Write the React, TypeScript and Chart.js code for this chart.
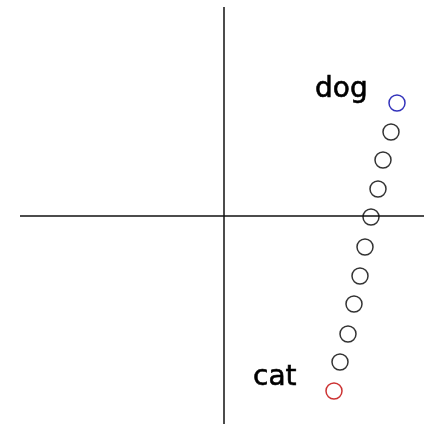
import React, { useEffect, useRef } from "react";
import { Chart, registerables } from "chart.js";

Chart.register(...registerables);

// Embedding coordinates of the words (first = "cat", last = "dog")
const pointX = [1.10, 1.16, 1.24, 1.30, 1.36, 1.41, 1.47, 1.54, 1.59, 1.67, 1.73];
const pointY = [-1.75, -1.46, -1.18, -0.88, -0.60, -0.31, -0.01, 0.27, 0.56, 0.84, 1.13];
const pointColors = ["#cc3333", "#333333", "#333333", "#333333", "#333333", "#333333", "#333333", "#333333", "#333333", "#333333", "#3333bb"];

const labelTexts = ["cat", "dog"];
const labelX = [0.29, 0.91];
const labelY = [-1.69, 1.19];

const xRange = [-2.24, 2.0];
const yRange = [-2.08, 2.16];
const vAxisY = [-2.1, 2.09];
const hAxisX = [-2.04, 2.02];

export default function App() {
  const ref = useRef<HTMLCanvasElement | null>(null);

  useEffect(() => {
    if (!ref.current) return;
    const labelPlugin = {
      id: "wordLabels",
      afterDatasetsDraw(chart: any) {
        const { ctx, scales } = chart;
        ctx.save();
        ctx.fillStyle = "#000";
        ctx.strokeStyle = "#000";
        ctx.lineWidth = 0.6;
        ctx.font = "28px 'DejaVu Sans'";
        ctx.textAlign = "left";
        ctx.textBaseline = "alphabetic";
        labelTexts.forEach((t, i) => {
          const px = scales.x.getPixelForValue(labelX[i]);
          const py = scales.y.getPixelForValue(labelY[i]);
          ctx.fillText(t, px, py);
          ctx.strokeText(t, px, py);
        });
        ctx.restore();
      },
    };
    const chart = new Chart(ref.current, {
      type: "scatter",
      data: {
        datasets: [
          {
            type: "line",
            data: [{ x: 0, y: vAxisY[0] }, { x: 0, y: vAxisY[1] }],
            borderColor: "#111",
            borderWidth: 1.5,
            pointRadius: 0,
            showLine: true,
            clip: false,
          } as any,
          {
            type: "line",
            data: [{ x: hAxisX[0], y: 0 }, { x: hAxisX[1], y: 0 }],
            borderColor: "#111",
            borderWidth: 1.5,
            pointRadius: 0,
            showLine: true,
            clip: false,
          } as any,
          {
            data: pointX.map((x, i) => ({ x, y: pointY[i] })),
            pointRadius: 8,
            pointBorderWidth: 1.5,
            pointBorderColor: pointColors,
            pointBackgroundColor: "rgba(0,0,0,0)",
            showLine: false,
            clip: false,
          } as any,
        ],
      },
      options: {
        animation: false,
        responsive: false,
        devicePixelRatio: 1,
        layout: { padding: 0, autoPadding: false },
        plugins: { legend: { display: false }, tooltip: { enabled: false } },
        events: [],
        scales: {
          x: { type: "linear", min: xRange[0], max: xRange[1], display: false },
          y: { type: "linear", min: yRange[0], max: yRange[1], display: false },
        },
      },
      plugins: [labelPlugin],
    });
    return () => chart.destroy();
  }, []);

  return (
    <div style={{ position: "fixed", left: 0, top: 0, width: 424, height: 424, background: "#fff" }}>
      <canvas ref={ref} width={424} height={424} style={{ display: "block" }} />
    </div>
  );
}
